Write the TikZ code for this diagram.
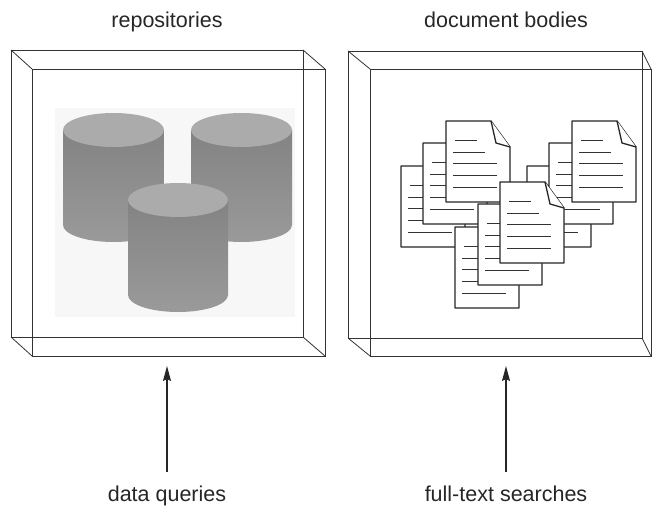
\documentclass[tikz,border=0pt]{standalone}
\usepackage{fontspec}
\setmainfont{Liberation Sans}
\usetikzlibrary{arrows.meta}

\newcommand\docpage[2]{%
  \begin{scope}[shift={(#1,#2)}]
    \filldraw[page] (0,0) -- (45,0) -- (64,26) -- (64,81) -- (0,81) -- cycle;
    \draw[page] (45,0) -- (50,22) -- (64,26);
    \draw[textline] (9,19) -- (31,19) (7,31) -- (39,31) (7,42) -- (51,42)
                    (7,54) -- (51,54) (7,66) -- (51,66);
  \end{scope}}

\newcommand\drum[4]{%
  \shade[top color=drumside!85!black, bottom color=drumside]
    (#1-#2,#3) -- (#1-#2,#4) arc[start angle=180, end angle=0, x radius=#2, y radius=17]
    -- (#1+#2,#3) -- cycle;
  \fill[drumtop] (#1,#3) ellipse[x radius=#2, y radius=17];}

\definecolor{drumside}{HTML}{9A9A9A}
\definecolor{drumtop}{HTML}{ABABAB}

\begin{document}
\begin{tikzpicture}[x=1pt, y=-1pt,
                    frame/.style={line width=0.8pt, black!80},
                    page/.style={line width=1.3pt, black!85, fill=white, line join=round},
                    textline/.style={line width=0.9pt, black!80},
                    label/.style={anchor=base, text=black!85, font=\fontsize{21.5}{25}\selectfont},
                    >={Stealth[length=15pt, width=8pt, inset=2pt]}]

  \useasboundingbox (0,0) rectangle (652,508);

  % left box
  \draw[frame] (11,50) rectangle (303,337);
  \draw[frame] (32,69) rectangle (325,356);
  \draw[frame] (11,50) -- (32,69) (303,50) -- (325,69) (11,337) -- (32,356) (303,337) -- (325,356);

  \fill[black!3] (55,108) rectangle (295,317);
  \drum{113.5}{50.5}{130}{225}
  \drum{241.5}{50.5}{130}{225}
  \drum{178}{50}{200}{295}

  % right box
  \draw[frame] (348,51) rectangle (642,338);
  \draw[frame] (370,69) rectangle (651,356);
  \draw[frame] (348,51) -- (370,69) (642,51) -- (651,69) (348,338) -- (370,356) (642,338) -- (651,356);

  \foreach \x/\y in {401/166, 423/143, 446/121, 527/166, 549/143, 572/121,
                     455/227, 478/204, 500/182}
    \docpage{\x}{\y};

  \node[label] (repo)   at (167,28)  {repositories};
  \node[label] (bodies) at (506,28)  {document bodies};
  \node[label] (dq)     at (167,501) {data queries};
  \node[label] (fts)    at (506,501) {full-text searches};

  \coordinate (dqtail)  at (167,472);
  \coordinate (dqhead)  at (167,366);
  \coordinate (ftstail) at (506,472);
  \coordinate (ftshead) at (506,366);

  \draw[->, line width=1.1pt, black!85] (dqtail) -- (dqhead);
  \draw[->, line width=1.1pt, black!85] (ftstail) -- (ftshead);

\end{tikzpicture}
\end{document}
